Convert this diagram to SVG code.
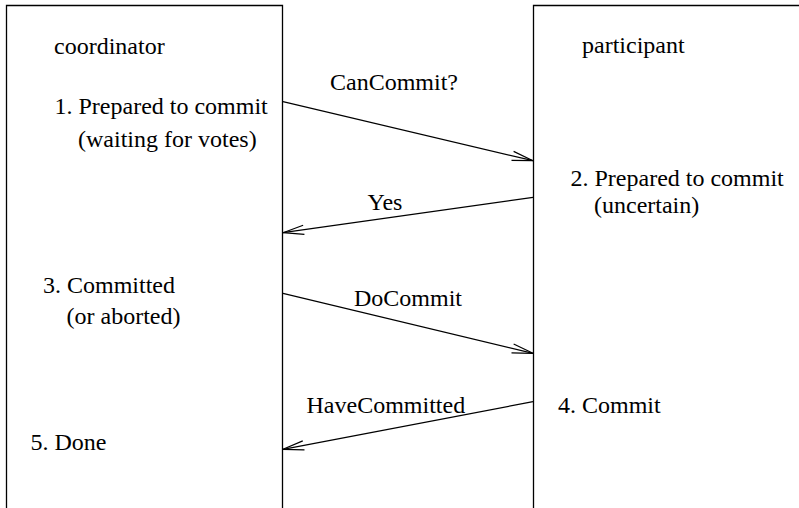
<svg xmlns="http://www.w3.org/2000/svg" width="799" height="508" viewBox="0 0 799 508">
  <style>
    .box { fill: none; stroke: #000; stroke-width: 1.3; }
    .msg { fill: none; stroke: #000; stroke-width: 1.2; }
    text { font-family: 'Liberation Serif', 'DejaVu Serif', serif; font-size: 24px; fill: #000; }
  </style>
  <defs>
    <marker id="arr" markerUnits="userSpaceOnUse" markerWidth="24" markerHeight="12" viewBox="-22 -6 24 12" refX="0" refY="0" orient="auto" overflow="visible">
      <path d="M-21,-4.6 L0,0 L-21,4.6" fill="none" stroke="#000" stroke-width="1.2"/>
    </marker>
  </defs>
  <rect width="799" height="508" fill="#fff"/>
  <g id="coordinator">
    <path class="box" d="M6.5,512 V5.5 H282.5 V512"/>
    <text x="54" y="54">coordinator</text>
    <text x="54.5" y="114">1. Prepared to commit</text>
    <text x="78" y="147">(waiting for votes)</text>
    <text x="43" y="293">3. Committed</text>
    <text x="66.5" y="324">(or aborted)</text>
    <text x="30.5" y="450">5. Done</text>
  </g>
  <g id="participant">
    <path class="box" d="M533.5,512 V5.5 H803"/>
    <text x="582" y="53">participant</text>
    <text x="570.5" y="186">2. Prepared to commit</text>
    <text x="594" y="213">(uncertain)</text>
    <text x="558" y="413">4. Commit</text>
  </g>
  <g id="connectors">
    <line class="msg" x1="283" y1="101.7" x2="533" y2="160.7" marker-end="url(#arr)"/>
    <text x="330" y="90">CanCommit?</text>
    <line class="msg" x1="533" y1="197.3" x2="283" y2="232.7" marker-end="url(#arr)"/>
    <text x="367.5" y="210">Yes</text>
    <line class="msg" x1="283" y1="293.3" x2="533" y2="353.3" marker-end="url(#arr)"/>
    <text x="354" y="305.5">DoCommit</text>
    <line class="msg" x1="533" y1="401.7" x2="283" y2="449.3" marker-end="url(#arr)"/>
    <text x="306.5" y="413.3">HaveCommitted</text>
  </g>
</svg>
